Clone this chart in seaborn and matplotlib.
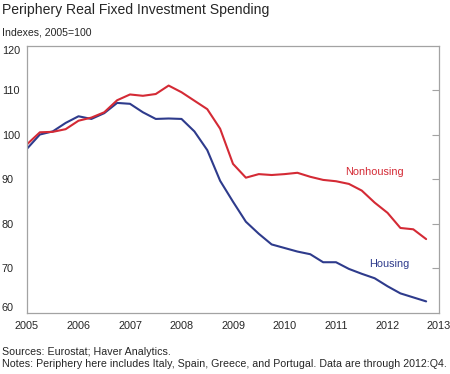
import numpy as np
import pandas as pd
import matplotlib
matplotlib.use("Agg")
import matplotlib.pyplot as plt
import seaborn as sns

# Quarterly index values, 2005:Q1 - 2012:Q4 (2005=100)
quarters = np.arange(2005, 2013, 0.25)
housing = [96.8, 100.0, 100.7, 102.6, 104.1, 103.5, 104.8, 107.1,
           106.9, 105.0, 103.5, 103.6, 103.5, 100.7, 96.5, 89.6,
           84.9, 80.4, 77.7, 75.3, 74.5, 73.7, 73.1, 71.3,
           71.3, 69.8, 68.7, 67.7, 65.9, 64.3, 63.4, 62.5]
nonhousing = [97.8, 100.5, 100.6, 101.2, 103.1, 103.8, 105.0, 107.7,
              109.0, 108.7, 109.1, 111.0, 109.5, 107.6, 105.7, 101.3,
              93.4, 90.3, 91.1, 90.9, 91.1, 91.4, 90.5, 89.8,
              89.5, 88.9, 87.4, 84.7, 82.4, 79.0, 78.7, 76.5]
years = list(range(2005, 2014))
yticks = [60, 70, 80, 90, 100, 110, 120]

df = pd.DataFrame({"date": np.tile(quarters, 2),
                   "value": housing + nonhousing,
                   "series": ["Housing"] * 32 + ["Nonhousing"] * 32})

red = "#d42a35"
blue = "#2e3b8c"
frame = "#a3a3a3"

sns.set_style("white")
plt.rcParams["font.family"] = ["Liberation Sans", "DejaVu Sans"]

fig = plt.figure(figsize=(4.5, 3.74), dpi=100)
ax = fig.add_axes([0.06, 0.1644, 0.9156, 0.7139])

sns.lineplot(data=df, x="date", y="value", hue="series",
             palette={"Housing": blue, "Nonhousing": red},
             linewidth=1.5, legend=False, ax=ax)

ax.set_xlim(2005, 2013)
ax.set_ylim(60, 120)
ax.set_xlabel("")
ax.set_ylabel("")

ax.set_xticks(years)
ax.set_xticklabels([str(y) for y in years], fontsize=7.8)
ax.set_yticks(yticks)
ax.set_yticklabels([str(y) for y in yticks], fontsize=7.8)

for s in ax.spines.values():
    s.set_color(frame)
    s.set_linewidth(0.9)

ax.tick_params(axis="x", direction="in", length=5, color=frame, pad=6.2)
ax.tick_params(axis="y", direction="in", length=5, color=frame,
               left=False, right=True, pad=18)
# only the interior ticks get tick marks
for t in ax.xaxis.get_major_ticks()[::len(years) - 1]:
    t.tick1line.set_visible(False)
for t in [ax.yaxis.get_major_ticks()[0], ax.yaxis.get_major_ticks()[-1]]:
    t.tick2line.set_visible(False)

for lab in ax.get_yticklabels():
    lab.set_horizontalalignment("left")
ylabs = ax.get_yticklabels()
ylabs[0].set_verticalalignment("bottom")
ylabs[-1].set_verticalalignment("top")

ax.text(2011.74, 91.65, "Nonhousing", color=red, fontsize=7.8,
        ha="center", va="center")
ax.text(2012.03, 71.0, "Housing", color=blue, fontsize=7.8,
        ha="center", va="center")

fig.text(0.004, 0.973, "Periphery Real Fixed Investment Spending",
         fontsize=10.1, ha="left", va="center")
fig.text(0.004, 0.913, "Indexes, 2005=100", fontsize=7.6,
         ha="left", va="center")
fig.text(0.004, 0.059, "Sources: Eurostat; Haver Analytics.",
         fontsize=7.7, ha="left", va="center")
fig.text(0.004, 0.027,
         "Notes: Periphery here includes Italy, Spain, Greece, and Portugal. "
         "Data are through 2012:Q4.",
         fontsize=7.7, ha="left", va="center")

fig.savefig("out.png", dpi=100)
